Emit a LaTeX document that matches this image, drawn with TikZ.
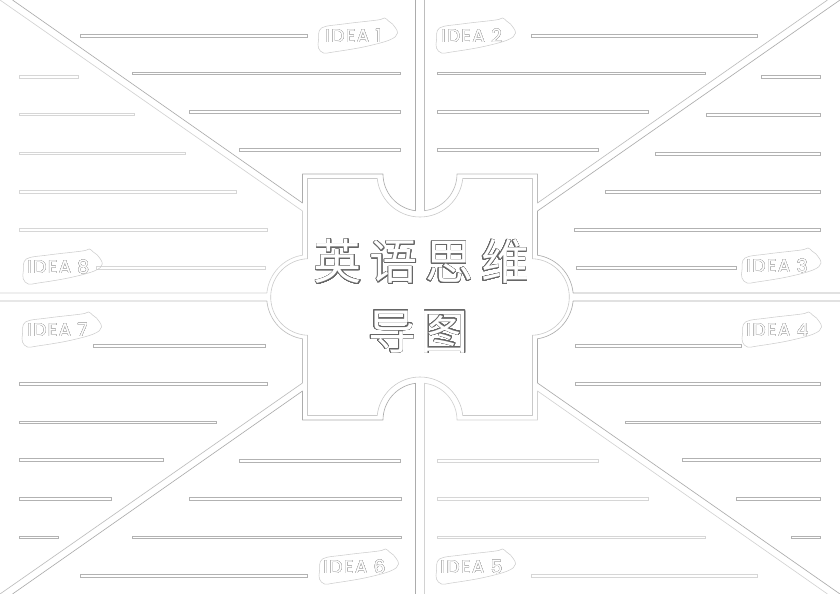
\documentclass[tikz,border=0pt]{standalone}
\usepackage{fontspec}
\usepackage[copies]{contour}
\newfontfamily\cjk{Noto Sans CJK SC}
\newfontfamily\ideafont[LetterSpace=9]{Poppins}
\contournumber{32}
\begin{document}
\begin{tikzpicture}[x=0.3mm,y=-0.3mm,
  pdark/.style={draw=gray!65,line width=0.55pt,line join=round},
  pmid/.style={draw=gray!52,line width=0.55pt,line join=round},
  plight/.style={draw=gray!35,line width=0.55pt,line join=round},
  puz/.style={draw=gray!42,line width=0.5pt,line join=round},
  bard/.style={draw=gray!60,line width=0.4pt,fill=white},
  barl/.style={draw=gray!32,line width=0.4pt,fill=white},
  bubble/.style={draw=gray!40,line width=0.45pt},
  idea/.style={text=white,font=\ideafont\fontsize{15.5}{16}\selectfont,inner sep=0pt},
  title/.style={text=white,font=\cjk\fontsize{41}{41}\selectfont,inner sep=0pt}]

\useasboundingbox (0,0) rectangle (840,594);
\fill[white] (0,0) rectangle (840,594);

% ---------- panel outlines ----------
% panel 1 (top, left half)
\draw[pdark] (12.5,0) -- (302.5,203) -- (302.5,174) -- (383,174)
  arc[start angle=180,end angle=97,radius=37] -- (415.5,0);
% panel 2 (top, right half)
\draw[pmid] (424.5,0) -- (424.5,210.7)
  arc[start angle=83,end angle=0,radius=37] -- (537.5,174) -- (537.5,203) -- (827.5,0);
% panel 3 (right, upper)
\draw[pdark] (840,0) -- (537.5,211) -- (537.5,255.2)
  arc[start angle=-81.16,end angle=-5.43,radius=42.3] -- (840,293);
% panel 4 (right, lower)
\draw[pdark] (840,301) -- (573.1,301)
  arc[start angle=5.43,end angle=81.16,radius=42.3] -- (537.5,383) -- (840,594);
% panel 5 (bottom, right half)
\draw[plight] (827.5,594) -- (537.5,391) -- (537.5,420) -- (457,420)
  arc[start angle=0,end angle=-83,radius=37] -- (424.5,594);
% panel 6 (bottom, left half)
\draw[pdark] (415.5,594) -- (415.5,383.3)
  arc[start angle=263,end angle=180,radius=37] -- (302.5,420) -- (302.5,391) -- (12.5,594);
% panel 7 (left, lower)
\draw[pmid] (0,594) -- (302.5,383) -- (302.5,338.8)
  arc[start angle=98.84,end angle=174.57,radius=42.3] -- (0,301);
% panel 8 (left, upper)
\draw[plight] (0,0) -- (302.5,211) -- (302.5,255.2)
  arc[start angle=261.16,end angle=185.43,radius=42.3] -- (0,293);

% ---------- central puzzle piece ----------
\draw[puz] (307.5,178.5) -- (377.24,178.5)
  arc[start angle=174,end angle=6,radius=43] -- (532.5,178.5) -- (532.5,258.73)
  arc[start angle=-87.76,end angle=87.76,radius=38.3] -- (532.5,415.5) -- (462.76,415.5)
  arc[start angle=-6,end angle=-174,radius=43] -- (307.5,415.5) -- (307.5,335.27)
  arc[start angle=92.24,end angle=267.76,radius=38.3] -- cycle;

% ---------- writing lines ----------
\foreach \y/\a/\b in {35.5/80.7/307.3, 73.3/132.7/400.7, 111.7/189.3/400.7, 150/239.3/400.7,
  35.7/531/757.3, 73.3/437.3/705.3, 111.7/437.3/648.3, 150/437.3/598.3,
  76.7/761.7/820, 115/706/820, 153.7/655.3/820, 191.7/605.7/820, 230/574.3/820, 267.7/576.7/736.7,
  345.7/93.3/265.7, 384/19/267.3, 422.3/19/216.7, 460/19/163.3, 499/19/111.7, 537.3/19/58.7,
  460.7/239.3/400.7, 499/189.3/401, 537.3/132.7/401, 575.7/80.7/307.3,
  345.7/575/741.7, 384/575/820.7, 422.3/625.7/820, 460/682.7/820, 499/736.7/820, 537.3/791/820}
  \draw[bard] (\a,\y-1.3) rectangle (\b,\y+1.3);
\foreach \y/\a/\b in {76.7/19.3/78.7, 114.3/19.3/134, 153.3/19.3/185.3, 191.7/19/236, 230/19/267.3, 267.7/96.7/265.7,
  460.7/437.3/598.3, 499/437.3/648.3, 537.3/437.3/705.7, 575.7/531/757.3}
  \draw[barl] (\a,\y-1.3) rectangle (\b,\y+1.3);

% ---------- IDEA labels ----------
\newcommand\ideabub[1]{%
  \begin{scope}[shift={(#1.center)}]
    \draw[bubble] plot[smooth cycle,tension=0.6] coordinates
      {(-35,4) (-32,-8) (-10,-12) (24,-16) (31,-18) (35,-15) (39,-12) (44,-3) (36,4) (10,11) (-20,16) (-30,17) (-35,12)};
  \end{scope}}
\node[idea] (i1) at (353.5,36) {\contourlength{0.22pt}\contour{gray!60}{IDEA 1}};
\node[idea] (i2) at (471.5,36) {\contourlength{0.22pt}\contour{gray!60}{IDEA 2}};
\node[idea] (i3) at (777,266) {\contourlength{0.22pt}\contour{gray!60}{IDEA 3}};
\node[idea] (i4) at (777.5,330) {\contourlength{0.22pt}\contour{gray!60}{IDEA 4}};
\node[idea] (i5) at (471.5,567) {\contourlength{0.22pt}\contour{gray!60}{IDEA 5}};
\node[idea] (i6) at (354.5,567) {\contourlength{0.22pt}\contour{gray!60}{IDEA 6}};
\node[idea] (i7) at (57.5,330) {\contourlength{0.22pt}\contour{gray!60}{IDEA 7}};
\node[idea] (i8) at (58.3,267) {\contourlength{0.22pt}\contour{gray!60}{IDEA 8}};
\foreach \n in {i1,i2,i3,i4,i5,i6,i7,i8} {\ideabub{\n}}

% ---------- title ----------
\node[title] (t1) at (421.5,262) {\addfontfeatures{LetterSpace=16}\contourlength{0.5pt}\contour{gray!80!black}{英语思维}};
\node[title] (t2) at (418.5,332) {\addfontfeatures{LetterSpace=10}\contourlength{0.5pt}\contour{gray!80!black}{导图}};
\end{tikzpicture}
\end{document}
